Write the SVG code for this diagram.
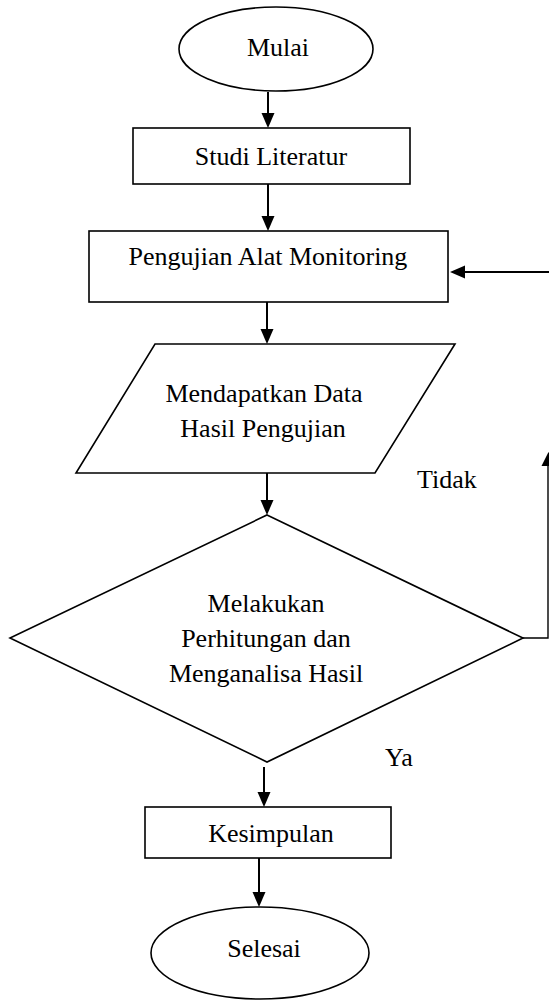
<svg xmlns="http://www.w3.org/2000/svg" width="549" height="1002" viewBox="0 0 549 1002">
<style>
.s{fill:#fff;stroke:#000;stroke-width:1.6}
.t{font-family:'Liberation Serif',Tinos,'Times New Roman',Times,'Nimbus Roman','DejaVu Serif',serif;font-size:26px;fill:#000;text-anchor:middle}
.l{font-family:'Liberation Serif',Tinos,'Times New Roman',Times,'Nimbus Roman','DejaVu Serif',serif;font-size:26px;fill:#000}
.c{fill:none;stroke:#000;stroke-width:2}
.h{fill:#000;stroke:none}
</style>
<rect width="549" height="1002" fill="#fff"/>
<g id="mulai"><ellipse class="s" cx="276" cy="49" rx="97" ry="42"/><text class="t" x="278" y="56">Mulai</text></g>
<g id="studi"><rect class="s" x="133" y="128" width="277" height="56"/><text class="t" x="271" y="165">Studi Literatur</text></g>
<g id="pengujian"><rect class="s" x="89" y="231" width="359" height="71"/><text class="t" x="268" y="265">Pengujian Alat Monitoring</text></g>
<g id="data"><polygon class="s" points="155,344 455,344 375,473 76,473"/><text class="t" x="264" y="402">Mendapatkan Data</text><text class="t" x="263" y="437">Hasil Pengujian</text></g>
<g id="analisa"><polygon class="s" points="267,515 523,638 267,762 10,638"/><text class="t" x="266" y="612">Melakukan</text><text class="t" x="266" y="647">Perhitungan dan</text><text class="t" x="266" y="682">Menganalisa Hasil</text></g>
<g id="kesimpulan"><rect class="s" x="145" y="807" width="246" height="51"/><text class="t" x="271" y="842">Kesimpulan</text></g>
<g id="selesai"><ellipse class="s" cx="260" cy="953" rx="109" ry="46"/><text class="t" x="264" y="957">Selesai</text></g>
<g id="labels"><text class="l" x="417" y="488">Tidak</text><text class="l" x="385" y="766">Ya</text></g>
<g id="connectors">
<line class="c" x1="268" y1="92" x2="268" y2="114"/><polygon class="h" points="261.5,113 274.5,113 268,128"/>
<line class="c" x1="268" y1="184" x2="268" y2="217"/><polygon class="h" points="261.5,216 274.5,216 268,231"/>
<line class="c" x1="267" y1="302" x2="267" y2="330"/><polygon class="h" points="260.5,329 273.5,329 267,344"/>
<line class="c" x1="267" y1="473" x2="267" y2="501"/><polygon class="h" points="260.5,500 273.5,500 267,515"/>
<line class="c" x1="264" y1="767" x2="264" y2="793"/><polygon class="h" points="257.5,792 270.5,792 264,807"/>
<line class="c" x1="259" y1="858" x2="259" y2="893"/><polygon class="h" points="252.5,892 265.5,892 259,907"/>
<line class="c" x1="549" y1="272" x2="464" y2="272"/><polygon class="h" points="465,265.5 465,278.5 450,272"/>
<polyline fill="none" stroke="#000" stroke-width="1.4" points="523,638 548,638 548,465"/><polygon class="h" points="541.5,466 555.5,466 548.5,452"/>
</g>
</svg>
